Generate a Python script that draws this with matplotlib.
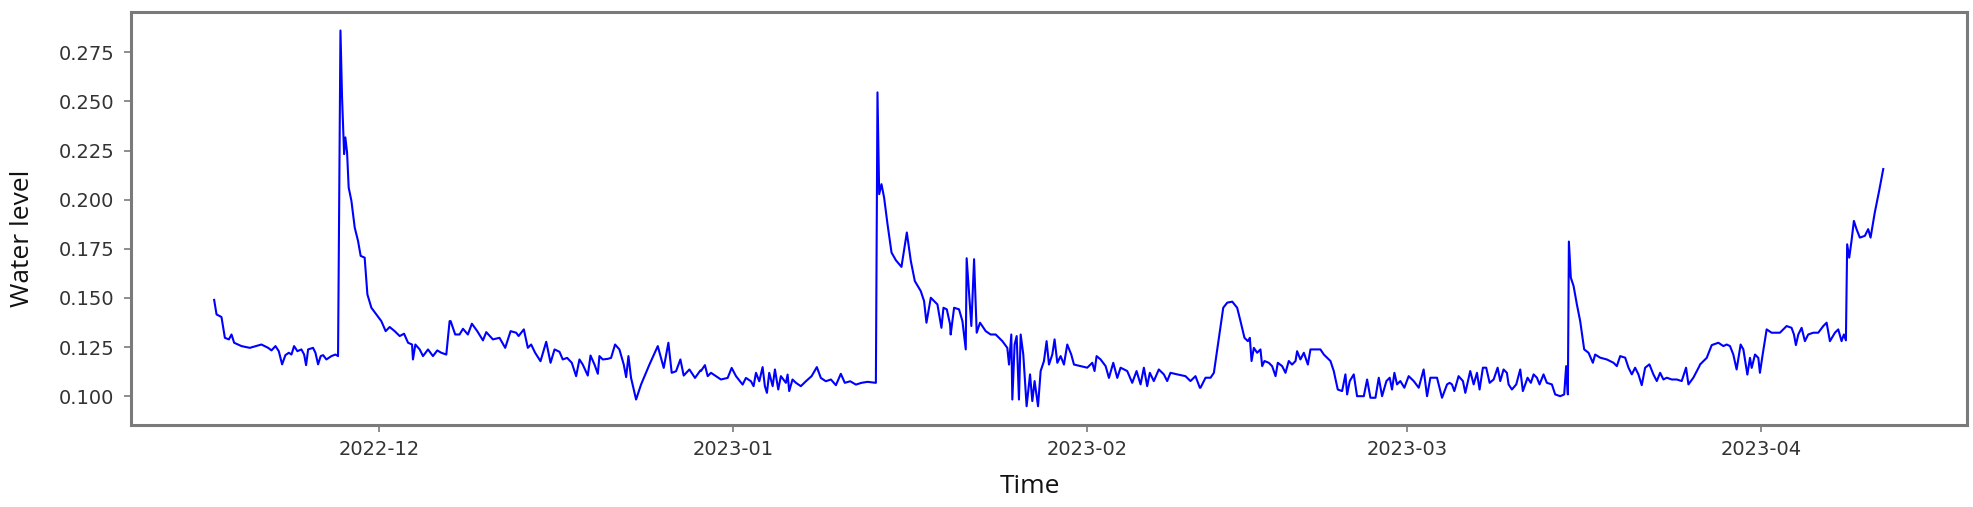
import numpy as np
import matplotlib
matplotlib.use("Agg")
import matplotlib.pyplot as plt
import matplotlib.dates as mdates

# ---- data: days since 2022-12-01 and water level ----
base_date = "2022-12-01"
days = [
    -14.44, -14.23, -13.80, -13.50, -13.15, -12.92, -12.69, -12.05, -11.32, -10.30,
    -9.71, -9.42, -9.07, -8.78, -8.49, -8.20, -7.90, -7.67, -7.44, -7.15,
    -6.80, -6.56, -6.39, -6.21, -5.78, -5.57, -5.34, -5.11, -4.90, -4.61,
    -4.17, -3.82, -3.59, -3.38, -3.24, -3.06, -2.95, -2.80, -2.66, -2.42,
    -2.13, -1.84, -1.61, -1.26, -1.02, -0.67, -0.23, 0.20, 0.58, 0.93,
    1.37, 1.81, 2.19, 2.54, 2.89, 2.97, 3.18, 3.56, 3.85, 4.29,
    4.72, 5.10, 5.45, 5.89, 6.18,
    6.27, 6.67, 7.05, 7.35, 7.78, 8.13, 8.60, 9.10, 9.39, 9.97,
    10.55, 11.05, 11.52, 12.01, 12.22, 12.68, 13.03, 13.32, 13.67, 14.14,
    14.64, 15.02, 15.37, 15.80, 16.09, 16.47, 16.88, 17.26, 17.55, 17.84,
    18.28, 18.52, 18.87, 19.16, 19.30, 19.59, 20.03, 20.32, 20.67, 21.05,
    21.43, 21.64, 21.84, 22.07, 22.51, 22.95, 23.68, 24.41, 24.93, 25.34,
    25.63, 26.01, 26.39, 26.68, 27.18, 27.67, 28.14,
    28.19, 28.54, 28.78, 29.07, 29.51, 29.94, 30.53, 30.88, 31.26, 31.84,
    32.13, 32.57, 32.80, 33.01, 33.30, 33.59, 33.79, 33.97, 34.17, 34.47,
    34.67, 34.96, 35.19, 35.63, 35.78, 35.92, 36.21, 36.51, 36.94, 37.38,
    37.88, 38.34, 38.69, 39.13, 39.57, 40.01, 40.44, 40.79, 41.26, 41.76,
    42.25, 42.78, 43.51, 43.65, 43.80, 44.00, 44.23, 44.53, 44.88, 45.26,
    45.75, 46.22, 46.57, 46.92, 47.44, 47.73, 47.94, 48.32, 48.90, 49.25,
    49.43, 49.72, 50.01,
    50.06, 50.36, 50.79, 51.09, 51.38, 51.46, 51.87, 52.11, 52.34, 52.63,
    53.13, 53.56, 54.00, 54.59, 55.02, 55.17, 55.37, 55.46, 55.66, 55.84,
    56.04, 56.19, 56.42, 56.71, 57.01, 57.21, 57.41, 57.71, 57.94, 58.23,
    58.46, 58.67, 58.96, 59.16, 59.40, 59.69, 59.98, 60.27, 60.62, 60.86,
    61.44, 62.02, 62.46, 62.66, 62.84, 63.19, 63.63, 63.92, 64.30, 64.65,
    64.94, 65.52, 65.96, 66.34, 66.69, 66.98, 67.27, 67.50, 67.85, 68.29,
    68.73, 69.02, 69.31, 69.90, 70.62, 71.06, 71.50, 71.88,
    71.94, 72.38, 72.82, 73.11, 73.55, 73.93, 74.28, 74.72, 75.15, 75.44,
    75.79, 76.09, 76.26, 76.41, 76.61, 76.90, 77.19, 77.34, 77.54, 77.92,
    78.21, 78.51, 78.71, 79.09, 79.38, 79.67, 79.96, 80.26, 80.40, 80.69,
    80.99, 81.34, 81.57, 82.44, 82.74, 83.32, 83.61, 83.96, 84.34, 84.63,
    84.78, 85.01, 85.36, 85.65, 86.24, 86.53, 86.82, 87.26, 87.55, 87.84,
    88.22, 88.51, 88.71, 88.92, 89.15, 89.44, 89.79, 90.17, 90.61, 91.05,
    91.48, 91.78, 92.07, 92.65, 93.09, 93.53, 93.76,
    93.96, 94.17, 94.54, 94.92, 95.13, 95.56, 95.86, 96.15, 96.38, 96.67,
    96.96, 97.26, 97.61, 97.96, 98.19, 98.48, 98.77, 98.92, 99.21, 99.59,
    99.94, 100.17, 100.58, 100.87, 101.11, 101.40, 101.63, 101.98, 102.27, 102.71,
    103.00, 103.44, 103.79, 103.96, 104.11, 104.20, 104.37, 104.61, 104.90, 105.19,
    105.54, 105.92, 106.30, 106.50, 106.94, 107.52, 108.11, 108.40, 108.69, 109.13,
    109.42, 109.71, 110.00, 110.29, 110.58, 110.88, 111.25, 111.60, 111.90, 112.19,
    112.48, 112.77, 113.21, 113.65, 114.08, 114.46, 114.67, 115.10, 115.63,
    115.68, 116.27, 116.71, 117.29, 117.73, 118.02, 118.31, 118.60, 118.89, 119.24,
    119.48, 119.83, 120.06, 120.21, 120.50, 120.79, 120.93, 121.17, 121.52, 121.95,
    122.68, 123.27, 123.70, 123.91, 124.08, 124.29, 124.58, 124.87, 125.16, 125.60,
    126.04, 126.48, 126.77, 127.06, 127.50, 127.79, 128.08, 128.28, 128.46, 128.57,
    128.75, 128.95, 129.16, 129.39, 129.68, 130.12, 130.41, 130.62, 130.99, 131.37,
    131.73,
]
water_level = [
    0.1490, 0.1416, 0.1403, 0.1297, 0.1289, 0.1314, 0.1272, 0.1255, 0.1246, 0.1263,
    0.1246, 0.1233, 0.1255, 0.1229, 0.1162, 0.1209, 0.1221, 0.1212, 0.1255, 0.1229,
    0.1238, 0.1212, 0.1158, 0.1238, 0.1246, 0.1221, 0.1162, 0.1204, 0.1209, 0.1187,
    0.1204, 0.1212, 0.1204, 0.2861, 0.2521, 0.2232, 0.2317, 0.2240, 0.2062, 0.1994,
    0.1858, 0.1790, 0.1714, 0.1705, 0.1518, 0.1450, 0.1416, 0.1382, 0.1331, 0.1352,
    0.1331, 0.1306, 0.1318, 0.1272, 0.1263, 0.1187, 0.1263, 0.1238, 0.1204, 0.1238,
    0.1204, 0.1233, 0.1221, 0.1212, 0.1382,
    0.1382, 0.1314, 0.1314, 0.1343, 0.1314, 0.1369, 0.1331, 0.1284, 0.1326, 0.1289,
    0.1297, 0.1246, 0.1331, 0.1323, 0.1306, 0.1340, 0.1246, 0.1263, 0.1221, 0.1178,
    0.1277, 0.1170, 0.1238, 0.1226, 0.1187, 0.1195, 0.1170, 0.1102, 0.1187, 0.1161,
    0.1105, 0.1207, 0.1161, 0.1114, 0.1204, 0.1187, 0.1190, 0.1195, 0.1263, 0.1238,
    0.1161, 0.1097, 0.1204, 0.1093, 0.0983, 0.1060, 0.1161, 0.1255, 0.1144, 0.1272,
    0.1119, 0.1127, 0.1187, 0.1105, 0.1136, 0.1093, 0.1131,
    0.1128, 0.1158, 0.1102, 0.1119, 0.1102, 0.1085, 0.1093, 0.1144, 0.1102, 0.1059,
    0.1093, 0.1076, 0.1051, 0.1119, 0.1076, 0.1148, 0.1051, 0.1017, 0.1119, 0.1051,
    0.1136, 0.1034, 0.1102, 0.1068, 0.1110, 0.1026, 0.1085, 0.1068, 0.1051, 0.1076,
    0.1102, 0.1148, 0.1093, 0.1076, 0.1085, 0.1056, 0.1114, 0.1068, 0.1076, 0.1059,
    0.1068, 0.1073, 0.1068, 0.2546, 0.2028, 0.2079, 0.2011, 0.1875, 0.1731, 0.1692,
    0.1658, 0.1833, 0.1688, 0.1586, 0.1535, 0.1484, 0.1374, 0.1501, 0.1467, 0.1348,
    0.1450, 0.1442, 0.1365,
    0.1314, 0.1450, 0.1442, 0.1382, 0.1238, 0.1702, 0.1357, 0.1697, 0.1323, 0.1374,
    0.1331, 0.1314, 0.1314, 0.1280, 0.1246, 0.1161, 0.1314, 0.0983, 0.1263, 0.1306,
    0.0983, 0.1314, 0.1212, 0.0949, 0.1111, 0.0975, 0.1077, 0.0949, 0.1128, 0.1179,
    0.1280, 0.1161, 0.1212, 0.1289, 0.1170, 0.1204, 0.1161, 0.1263, 0.1212, 0.1161,
    0.1153, 0.1145, 0.1170, 0.1128, 0.1204, 0.1187, 0.1153, 0.1093, 0.1170, 0.1093,
    0.1145, 0.1128, 0.1068, 0.1128, 0.1060, 0.1145, 0.1051, 0.1119, 0.1077, 0.1136,
    0.1111, 0.1077, 0.1119, 0.1111, 0.1102, 0.1077, 0.1102, 0.1043,
    0.1043, 0.1094, 0.1094, 0.1119, 0.1297, 0.1450, 0.1476, 0.1481, 0.1450, 0.1382,
    0.1297, 0.1280, 0.1297, 0.1179, 0.1246, 0.1221, 0.1238, 0.1153, 0.1179, 0.1170,
    0.1153, 0.1102, 0.1170, 0.1153, 0.1119, 0.1179, 0.1161, 0.1179, 0.1229, 0.1187,
    0.1221, 0.1161, 0.1238, 0.1238, 0.1212, 0.1179, 0.1128, 0.1034, 0.1026, 0.1111,
    0.1009, 0.1077, 0.1111, 0.1000, 0.1000, 0.1085, 0.0992, 0.0992, 0.1094, 0.1000,
    0.1077, 0.1094, 0.1034, 0.1119, 0.1060, 0.1077, 0.1043, 0.1102, 0.1077, 0.1043,
    0.1136, 0.1000, 0.1094, 0.1094, 0.0992, 0.1060, 0.1068,
    0.1060, 0.1026, 0.1102, 0.1077, 0.1017, 0.1128, 0.1060, 0.1119, 0.1034, 0.1145,
    0.1145, 0.1068, 0.1085, 0.1145, 0.1077, 0.1136, 0.1119, 0.1060, 0.1034, 0.1060,
    0.1136, 0.1026, 0.1094, 0.1068, 0.1111, 0.1094, 0.1060, 0.1111, 0.1068, 0.1060,
    0.1009, 0.1000, 0.1009, 0.1153, 0.1009, 0.1787, 0.1603, 0.1561, 0.1467, 0.1382,
    0.1238, 0.1221, 0.1170, 0.1212, 0.1196, 0.1187, 0.1170, 0.1153, 0.1204, 0.1196,
    0.1145, 0.1111, 0.1145, 0.1111, 0.1056, 0.1145, 0.1162, 0.1111, 0.1077, 0.1119,
    0.1085, 0.1094, 0.1085, 0.1085, 0.1077, 0.1145, 0.1060, 0.1094, 0.1153,
    0.1161, 0.1195, 0.1260, 0.1272, 0.1255, 0.1263, 0.1255, 0.1212, 0.1136, 0.1263,
    0.1238, 0.1110, 0.1195, 0.1144, 0.1212, 0.1195, 0.1119, 0.1212, 0.1340, 0.1323,
    0.1323, 0.1357, 0.1348, 0.1314, 0.1260, 0.1314, 0.1348, 0.1280, 0.1314, 0.1323,
    0.1323, 0.1357, 0.1374, 0.1280, 0.1323, 0.1340, 0.1280, 0.1314, 0.1284, 0.1773,
    0.1705, 0.1790, 0.1892, 0.1850, 0.1807, 0.1816, 0.1850, 0.1807, 0.1935, 0.2045,
    0.2156,
]

times = np.datetime64(base_date) + (np.array(days) * 86400).astype("timedelta64[s]")

W, H, DPI = 1974, 507, 100
fig = plt.figure(figsize=(W / DPI, H / DPI), dpi=DPI)
ax = fig.add_axes([130.7 / W, 1 - 425 / H, (1966.7 - 130.7) / W, (425 - 11.7) / H])

ax.plot(times, water_level, color="#0000ff", linewidth=1.5)

ax.xaxis.set_major_locator(mdates.MonthLocator())
ax.xaxis.set_major_formatter(mdates.DateFormatter("%Y-%m"))
ax.set_yticks([0.100, 0.125, 0.150, 0.175, 0.200, 0.225, 0.250, 0.275])
ax.yaxis.set_major_formatter(matplotlib.ticker.FormatStrFormatter("%.3f"))

for s in ax.spines.values():
    s.set_color("#7a7a7a")
    s.set_linewidth(2.2)
ax.tick_params(axis="both", colors="#7a7a7a", labelcolor="#333333",
               labelsize=14, length=5, width=1.2)
ax.tick_params(axis="y", pad=7)
ax.tick_params(axis="x", pad=6)

fig.text(1030 / W, 1 - 493.3 / H, "Time", family="Open Sans", fontsize=19,
         ha="center", va="baseline", color="#111111")
fig.text(23 / W, 1 - 238 / H, "Water level", family="Open Sans", fontsize=19,
         rotation=90, ha="center", va="center", color="#111111")

fig.savefig("out.png", dpi=DPI)
